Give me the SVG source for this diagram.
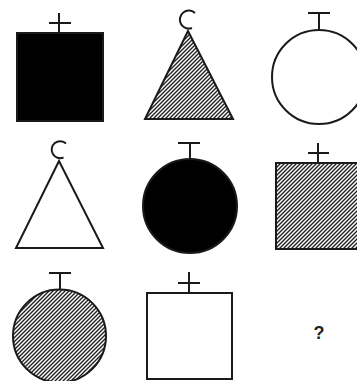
<svg xmlns="http://www.w3.org/2000/svg" width="357" height="381" viewBox="0 0 357 381">
<style>
.k{stroke:#1a1a1a;stroke-width:2;fill:#000}
.w{stroke:#1a1a1a;stroke-width:2;fill:#fff}
.h{stroke:#1a1a1a;stroke-width:2;fill:url(#hatch)}
.m{stroke:#1a1a1a;stroke-width:2;fill:none}
.q{font-family:"Liberation Sans",Arial,sans-serif;font-size:18px;font-weight:bold;fill:#222}
</style>
<defs>
<pattern id="hatch" patternUnits="userSpaceOnUse" width="4" height="4">
<rect width="4" height="4" fill="#fff"/>
<path d="M-1,1 L1,-1 M0,4 L4,0 M3,5 L5,3" stroke="#222" stroke-width="1.4"/>
</pattern>
</defs>
<rect width="357" height="381" fill="#fff"/>
<g id="n1">
<rect x="17" y="33" width="86" height="88" class="k"/>
<path d="M59,13 V33 M49,23 H71" class="m"/>
</g>
<g id="n2">
<polygon points="188,31 145,119 233,119" class="h"/>
<path d="M195,13 A9,9 0 1 0 192,28" class="m"/>
</g>
<g id="n3">
<circle cx="319" cy="77" r="47" class="w"/>
<path d="M319,13 V30 M308,13 H330" class="m"/>
</g>
<g id="n4">
<polygon points="59,161 16,248 103,248" class="w"/>
<path d="M66,143.5 A8.5,8.5 0 1 0 63.5,157.5" class="m"/>
</g>
<g id="n5">
<circle cx="190" cy="206" r="47" class="k"/>
<path d="M190,143 V159 M178,143 H200" class="m"/>
</g>
<g id="n6">
<rect x="276" y="163" width="86" height="86" class="h"/>
<path d="M318,143 V163 M308,153 H329" class="m"/>
</g>
<g id="n7">
<circle cx="59.5" cy="336" r="46.5" class="h"/>
<path d="M60,273 V290 M49,273 H71" class="m"/>
</g>
<g id="n8">
<rect x="147" y="293" width="85" height="86" class="w"/>
<path d="M189,272 V293 M178,283 H200" class="m"/>
</g>
<g id="n9">
<text x="319" y="339" text-anchor="middle" class="q">?</text>
</g>
</svg>
